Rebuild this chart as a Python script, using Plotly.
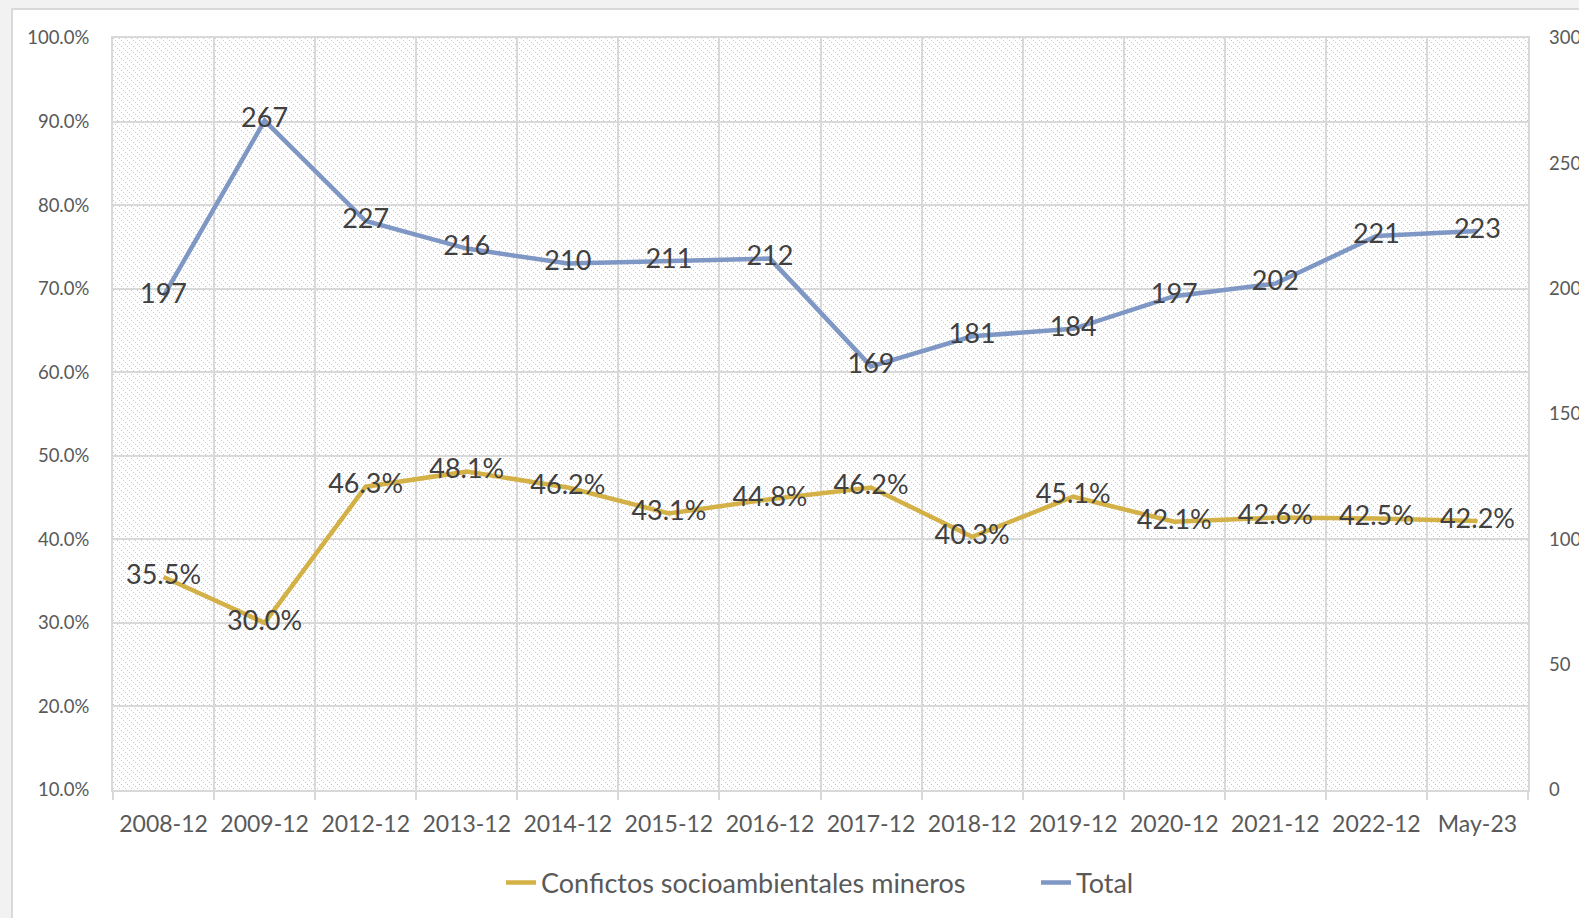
import base64
import plotly.graph_objects as go

categories = ["2008-12", "2009-12", "2012-12", "2013-12", "2014-12", "2015-12", "2016-12",
              "2017-12", "2018-12", "2019-12", "2020-12", "2021-12", "2022-12", "May-23"]
mineros_pct = [35.5, 30.0, 46.3, 48.1, 46.2, 43.1, 44.8, 46.2, 40.3, 45.1, 42.1, 42.6, 42.5, 42.2]
total = [197, 267, 227, 216, 210, 211, 212, 169, 181, 184, 197, 202, 221, 223]

W, H = 1579, 918
ML, MR, MT, MB = 113, 51, 38, 128
PW, PH = W - ML - MR, H - MT - MB

FONT = "Lato, 'Open Sans', sans-serif"
GOLD = "#D4B146"
BLUE = "#7F97C4"
GRID = "#D9D9D9"

# hatched plot-area background pattern
svg = (f'<svg xmlns="http://www.w3.org/2000/svg" width="{PW}" height="{PH}" '
       f'viewBox="0 0 {PW} {PH}" shape-rendering="crispEdges">'
       '<defs><pattern id="p" width="6" height="6" patternUnits="userSpaceOnUse">'
       '<rect x="0" y="0" width="1" height="1" fill="#C8C8C8"/>'
       '<rect x="2" y="2" width="1" height="1" fill="#C8C8C8"/>'
       '<rect x="4" y="4" width="1" height="1" fill="#C8C8C8"/>'
       '</pattern></defs>'
       f'<rect width="{PW}" height="{PH}" fill="#FFFFFF"/>'
       f'<rect width="{PW}" height="{PH}" fill="url(#p)"/></svg>')
svg_uri = "data:image/svg+xml;base64," + base64.b64encode(svg.encode()).decode()

fig = go.Figure()
fig.add_trace(go.Scatter(
    x=categories, y=[v / 100 for v in mineros_pct], mode="lines+text",
    name="Confictos socioambientales mineros",
    line=dict(color=GOLD, width=4.5),
    text=[f"{v:.1f}%" for v in mineros_pct], textposition="middle center",
    textfont=dict(family=FONT, size=27, color="#404040"),
    cliponaxis=False, yaxis="y"))
fig.add_trace(go.Scatter(
    x=categories, y=total, mode="lines+text", name="Total",
    line=dict(color=BLUE, width=4.5),
    text=[str(v) for v in total], textposition="middle center",
    textfont=dict(family=FONT, size=27, color="#404040"),
    cliponaxis=False, yaxis="y2"))

px_x = lambda p: (p - ML) / PW
px_y = lambda p: 1 - (p - MT) / PH

fig.update_layout(
    width=W, height=H,
    margin=dict(l=ML, r=MR, t=MT, b=MB, autoexpand=False),
    paper_bgcolor="#F2F2F2", plot_bgcolor="#FFFFFF",
    font=dict(family=FONT, color="#595959"),
    showlegend=True,
    legend=dict(orientation="h", x=px_x(501), xanchor="left", y=px_y(883), yanchor="middle",
                font=dict(family=FONT, size=27, color="#595959"),
                bgcolor="rgba(0,0,0,0)", itemwidth=30, entrywidth=490,
                tracegroupgap=0),
    xaxis=dict(type="category", range=[-0.5, len(categories) - 0.5], tickson="boundaries",
               showgrid=True, gridcolor=GRID, gridwidth=2,
               ticks="outside", ticklen=8, tickcolor=GRID, tickwidth=2,
               showline=True, linecolor=GRID, linewidth=2, mirror=True,
               tickfont=dict(family=FONT, size=23, color="#595959"),
               ticklabelstandoff=12),
    yaxis=dict(range=[0.1, 1.0], dtick=0.1, tick0=0.1, tickformat=".1%",
               showgrid=True, gridcolor=GRID, gridwidth=2, zeroline=False,
               showline=True, linecolor=GRID, linewidth=2, mirror=True,
               tickfont=dict(family=FONT, size=18.5, color="#595959"),
               ticklabelstandoff=18),
    yaxis2=dict(range=[0, 300], dtick=50, overlaying="y", side="right",
                showgrid=False, zeroline=False, showline=False,
                tickfont=dict(family=FONT, size=18.5, color="#595959"),
                ticklabelstandoff=20),
    images=[dict(source=svg_uri, xref="x domain", yref="y domain", x=0, y=1,
                 sizex=1, sizey=1, xanchor="left", yanchor="top",
                 sizing="stretch", layer="below")],
    shapes=[dict(type="rect", xref="paper", yref="paper", layer="below",
                 x0=px_x(12), x1=px_x(W + 40), y0=px_y(H + 40), y1=px_y(9),
                 fillcolor="#FFFFFF", line=dict(color="#D9D9D9", width=2))],
)

fig.write_html("out.html", config={"displayModeBar": False},
               post_script="document.body.style.margin='0';document.body.style.overflow='hidden';")
